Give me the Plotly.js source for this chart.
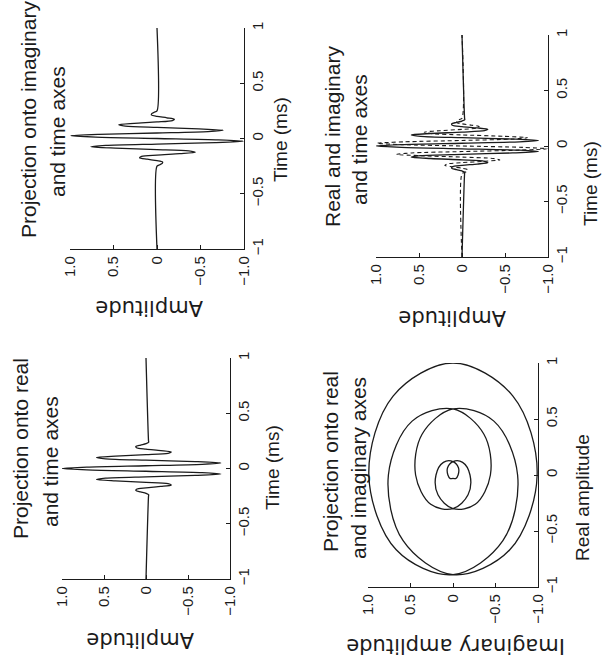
<!DOCTYPE html>
<html>
<head>
<meta charset="utf-8">
<script src="https://cdn.plot.ly/plotly-3.0.1.min.js"></script>
<style>
  html, body { margin: 0; padding: 0; background: #ffffff; }
  #chart { width: 604px; height: 662px; }
</style>
</head>
<body>
<div id="chart"></div>
<script>
// ---------- data ----------
// time samples in ms (wave packet sampled every 1/8 period, flat outside)
const timeMs = [-1,
  -0.25, -0.2375, -0.225, -0.2125, -0.2, -0.1875, -0.175, -0.1625, -0.15, -0.1375,
  -0.125, -0.1125, -0.1, -0.0875, -0.075, -0.0625, -0.05, -0.0375, -0.025, -0.0125,
  0,
  0.0125, 0.025, 0.0375, 0.05, 0.0625, 0.075, 0.0875, 0.1, 0.1125, 0.125,
  0.1375, 0.15, 0.1625, 0.175, 0.1875, 0.2, 0.2125, 0.225, 0.2375, 0.25,
  1];

// real part of the complex wave packet
const realPart = [0,
  -0.03, -0.032, 0, 0.064, 0.12, 0.113, 0, -0.177, -0.30, -0.262,
  0, 0.364, 0.59, 0.481, 0, -0.587, -0.89, -0.668, 0, 0.705,
  1.0,
  0.705, 0, -0.668, -0.89, -0.587, 0, 0.481, 0.59, 0.364, 0,
  -0.262, -0.30, -0.177, 0, 0.113, 0.12, 0.064, 0, -0.032, -0.03,
  0];

// imaginary part of the complex wave packet
const imagPart = [0,
  0, -0.032, -0.06, -0.064, 0, 0.113, 0.20, 0.177, 0, -0.262,
  -0.44, -0.364, 0, 0.481, 0.76, 0.587, 0, -0.668, -0.99, -0.705,
  0,
  0.705, 0.99, 0.668, 0, -0.587, -0.76, -0.481, 0, 0.364, 0.44,
  0.262, 0, -0.177, -0.20, -0.113, 0, 0.064, 0.06, 0.032, 0,
  0];

// tick labels
const ampTickVals = [1, 0.5, 0, -0.5, -1];
const ampTickText = ["1.0", "0.5", "0", "\u22120.5", "\u22121.0"];
const timeTickVals = [-1, -0.5, 0, 0.5, 1];
const timeTickText = ["\u22121", "\u22120.5", "0", "0.5", "1"];

// panel texts
const panelTitles = [
  ["Projection onto imaginary", "and time axes"],
  ["Real and imaginary", "and time axes"],
  ["Projection onto real", "and time axes"],
  ["Projection onto real", "and imaginary axes"]
];
const horizLabels = ["Amplitude", "Amplitude", "Amplitude", "Imaginary amplitude"];
const vertLabels = ["Time (ms)", "Time (ms)", "Time (ms)", "Real amplitude"];

// ---------- layout helpers ----------
const W = 604, H = 662;
const FONT = "Liberation Sans, Arial, Helvetica, sans-serif";
const INK = "#1b1b1b";
function px2x(p) { return p / W; }
function px2y(p) { return 1 - p / H; }

// plot boxes in pixels: [left, right, top, bottom]
const boxes = [
  [70, 244, 28, 249],
  [376, 548, 35, 257],
  [62, 230, 358, 579],
  [368, 538, 363, 587]
];

const layout = {
  width: W, height: H,
  margin: { l: 0, r: 0, t: 0, b: 0 },
  paper_bgcolor: "#ffffff",
  plot_bgcolor: "rgba(0,0,0,0)",
  showlegend: false,
  font: { family: FONT, color: INK },
  annotations: []
};

boxes.forEach((b, i) => {
  const n = i === 0 ? "" : String(i + 1);
  layout["xaxis" + n] = {
    domain: [px2x(b[0]), px2x(b[1])],
    anchor: "y" + n,
    range: [1, -1],
    tickvals: ampTickVals, ticktext: ampTickText,
    tickangle: -90,
    ticks: "inside", ticklen: 4, tickwidth: 1, tickcolor: INK,
    showline: true, linecolor: INK, linewidth: 1.2,
    showgrid: false, zeroline: false,
    tickfont: { family: FONT, size: 15, color: INK },
    fixedrange: true
  };
  layout["yaxis" + n] = {
    domain: [px2y(b[3]), px2y(b[2])],
    anchor: "x" + n,
    side: "right",
    range: [-1, 1],
    tickvals: timeTickVals, ticktext: timeTickText,
    tickangle: -90,
    ticks: "inside", ticklen: 4, tickwidth: 1, tickcolor: INK,
    showline: true, linecolor: INK, linewidth: 1.2,
    showgrid: false, zeroline: false,
    tickfont: { family: FONT, size: 15, color: INK },
    fixedrange: true
  };
});

// title line positions [x, y] in pixels, two lines per panel
const titlePos = [
  [[28, 120], [57, 132]],
  [[332, 137], [359, 140]],
  [[20, 449], [50, 462]],
  [[330, 462], [358, 468]]
];
titlePos.forEach((pp, i) => {
  pp.forEach((p, k) => {
    layout.annotations.push({
      text: panelTitles[i][k], xref: "paper", yref: "paper",
      x: px2x(p[0]), y: px2y(p[1]), xanchor: "center", yanchor: "middle",
      textangle: -90, showarrow: false,
      font: { family: FONT, size: 21, color: INK }
    });
  });
});

// horizontal axis labels (upside down in the rotated figure)
const hLabelPos = [[149, 308], [452, 318], [140, 640], [456, 646]];
hLabelPos.forEach((p, i) => {
  layout.annotations.push({
    text: horizLabels[i], xref: "paper", yref: "paper",
    x: px2x(p[0]), y: px2y(p[1]), xanchor: "center", yanchor: "middle",
    textangle: 180, showarrow: false,
    font: { family: "DejaVu Sans, sans-serif", size: 21, color: INK }
  });
});

// vertical axis labels (read bottom to top, right of each plot)
const vLabelPos = [[280, 140], [590, 184], [272, 468], [583, 498]];
vLabelPos.forEach((p, i) => {
  layout.annotations.push({
    text: vertLabels[i], xref: "paper", yref: "paper",
    x: px2x(p[0]), y: px2y(p[1]), xanchor: "center", yanchor: "middle",
    textangle: -90, showarrow: false,
    font: { family: FONT, size: 19, color: INK }
  });
});

const lineStyle = { color: INK, width: 1.3, shape: "spline", smoothing: 0.8 };

const data = [
  { type: "scatter", mode: "lines", x: imagPart, y: timeMs, xaxis: "x", yaxis: "y",
    line: lineStyle, name: "Imaginary", hoverinfo: "skip" },
  { type: "scatter", mode: "lines", x: realPart, y: timeMs, xaxis: "x2", yaxis: "y2",
    line: lineStyle, name: "Real", hoverinfo: "skip" },
  { type: "scatter", mode: "lines", x: imagPart, y: timeMs, xaxis: "x2", yaxis: "y2",
    line: Object.assign({}, lineStyle, { dash: "4px,3px", width: 1.1 }), name: "Imaginary", hoverinfo: "skip" },
  { type: "scatter", mode: "lines", x: realPart, y: timeMs, xaxis: "x3", yaxis: "y3",
    line: lineStyle, name: "Real", hoverinfo: "skip" },
  { type: "scatter", mode: "lines", x: imagPart.slice(1, -1), y: realPart.slice(1, -1), xaxis: "x4", yaxis: "y4",
    line: Object.assign({}, lineStyle, { smoothing: 1.0 }), name: "Real vs imaginary", hoverinfo: "skip" }
];

Plotly.newPlot("chart", data, layout, { staticPlot: true, displayModeBar: false });
</script>
</body>
</html>
